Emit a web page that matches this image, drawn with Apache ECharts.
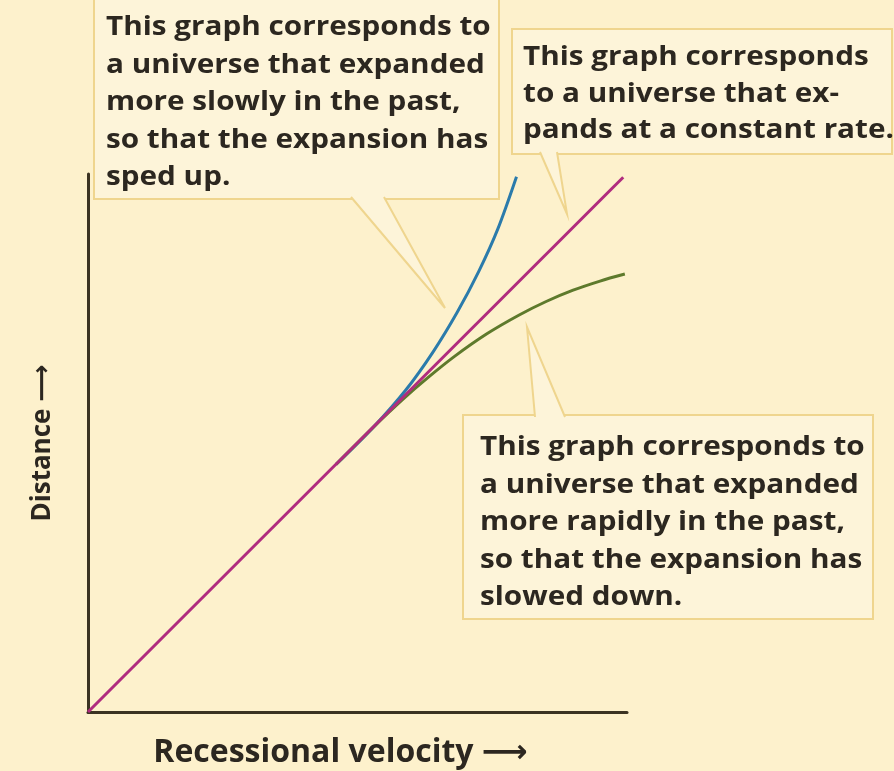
<!DOCTYPE html>
<html lang="en">
<head>
	<meta charset="UTF-8">
	<title>hubble-expansion</title>
	<script src="https://cdn.jsdelivr.net/npm/echarts@6/dist/echarts.min.js"></script>
	<style>
		html, body { margin: 0; padding: 0; background: #fdf1cc; }
	</style>
</head>
<body>
	<div id="container" style="width:894px;height:771px;"></div>

	<script>
		// data (arbitrary units, axes 0..10)
		var constantX = [0, 9.93];
		var constantY = [0, 9.94];
		var acceleratingX = [4.6, 5.3, 5.9, 6.4, 6.85, 7.25, 7.6, 7.95];
		var acceleratingY = [4.6, 5.3, 5.99, 6.69, 7.43, 8.19, 8.97, 9.95];
		var deceleratingX = [4.6, 5.3, 5.85, 6.3, 6.8, 7.4, 8.0, 8.5, 9.0, 9.5, 9.96];
		var deceleratingY = [4.6, 5.3, 5.82, 6.21, 6.61, 7.03, 7.38, 7.63, 7.84, 8.01, 8.14];

		var note1 = ['This graph corresponds to', 'a universe that expanded', 'more slowly in the past,', 'so that the expansion has', 'sped up.'];
		var note2 = ['This graph corresponds', 'to a universe that ex-', 'pands at a constant rate.'];
		var note3 = ['This graph corresponds to', 'a universe that expanded', 'more rapidly in the past,', 'so that the expansion has', 'slowed down.'];

		function pairs(xs, ys) {
			var out = [];
			for (var i = 0; i < xs.length; i++) {
				out.push([xs[i], ys[i]]);
			}
			return out;
		}

		var boxFill = '#fdf4d9';
		var boxStroke = '#efd58e';
		var textFont = 'bold 27px "Open Sans", sans-serif';

		// callout: box rect, tail polygon [base1, base2, tip], text
		function callout(x, y, w, h, tail, lines, tx, ty, lh) {
			return [{
				type: 'rect',
				shape: {x: x, y: y, width: w, height: h},
				style: {fill: boxFill, stroke: boxStroke, lineWidth: 2},
				z: 10
			}, {
				type: 'polygon',
				shape: {points: tail},
				style: {fill: boxFill},
				z: 11
			}, {
				type: 'polyline',
				shape: {points: [tail[0], tail[2], tail[1]]},
				style: {stroke: boxStroke, lineWidth: 2, fill: null},
				z: 12
			}, {
				type: 'text',
				x: tx,
				y: ty,
				scaleX: 1.1,
				style: {
					text: lines.join('\n'),
					font: textFont,
					fill: '#2c2720',
					lineHeight: lh,
					verticalAlign: 'top'
				},
				z: 13
			}];
		}

		var dom = document.getElementById('container');
		var myChart = echarts.init(dom);

		var option = {
			backgroundColor: '#fdf1cc',
			animation: false,
			grid: {left: 88, top: 174, right: 267, bottom: 59, outerBoundsMode: 'none', containLabel: false},
			xAxis: {
				type: 'value',
				min: 0,
				max: 10,
				name: 'Recessional velocity \u27F6',
				nameLocation: 'middle',
				nameGap: 25,
				nameTextStyle: {
					fontFamily: '"Open Sans", "DejaVu Sans", sans-serif',
					fontWeight: 'bold',
					fontSize: 32,
					color: '#2c2720',
					padding: [0, 34, 0, 0]
				},
				axisLine: {lineStyle: {color: '#3b3322', width: 3}},
				axisTick: {show: false},
				axisLabel: {show: false},
				splitLine: {show: false}
			},
			yAxis: {
				type: 'value',
				min: 0,
				max: 10,
				name: 'Distance \u27F6',
				nameLocation: 'middle',
				nameGap: 32,
				nameTextStyle: {
					fontFamily: '"Open Sans", "DejaVu Sans", sans-serif',
					fontWeight: 'bold',
					fontSize: 26,
					color: '#2c2720'
				},
				axisLine: {lineStyle: {color: '#3b3322', width: 3}},
				axisTick: {show: false},
				axisLabel: {show: false},
				splitLine: {show: false}
			},
			series: [{
				name: 'accelerating',
				type: 'line',
				smooth: 0.3,
				showSymbol: false,
				data: pairs(acceleratingX, acceleratingY),
				lineStyle: {color: '#2b7bab', width: 3}
			}, {
				name: 'decelerating',
				type: 'line',
				smooth: 0.3,
				showSymbol: false,
				data: pairs(deceleratingX, deceleratingY),
				lineStyle: {color: '#5e7a2c', width: 3}
			}, {
				name: 'constant',
				type: 'line',
				showSymbol: false,
				data: pairs(constantX, constantY),
				lineStyle: {color: '#b02c7e', width: 3}
			}],
			graphic: {
				elements: [].concat(
					callout(94, -4, 405, 203, [[351, 197], [384, 197], [445, 308]], note1, 106, 9, 37.5),
					callout(512, 29, 380, 125, [[540, 152], [557, 152], [567, 214]], note2, 523, 39, 36.7),
					callout(463, 415, 410, 204, [[535, 417], [565, 417], [527, 327]], note3, 480, 429, 37.5)
				)
			}
		};

		myChart.setOption(option);
	</script>
</body>
</html>
